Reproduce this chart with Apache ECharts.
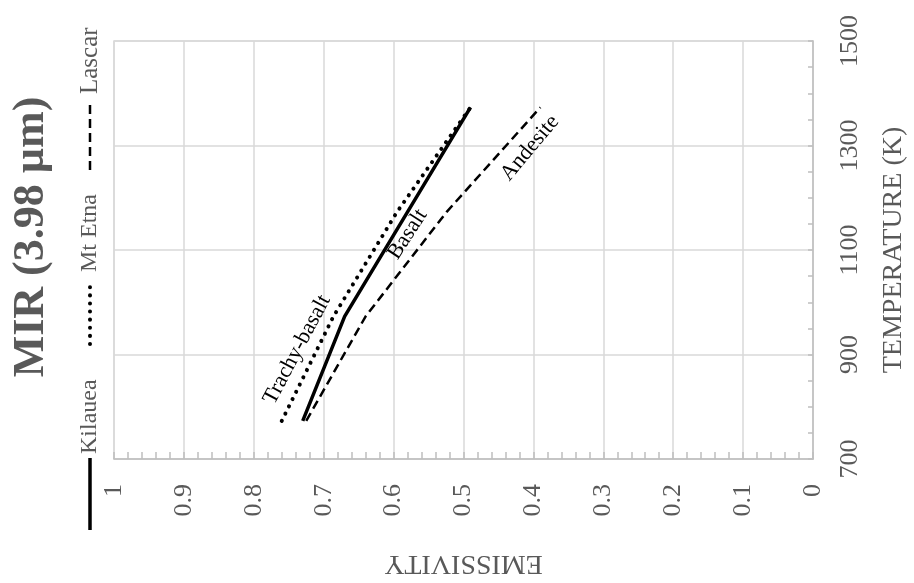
<!DOCTYPE html>
<html><head><meta charset="utf-8">
<script src="https://cdn.jsdelivr.net/npm/echarts@6/dist/echarts.min.js"></script>
<style>html,body{margin:0;padding:0;background:#fff}#c{width:914px;height:583px}</style>
</head><body><div id="c"></div>
<script>
// Data (emissivity vs. temperature, MIR 3.98 µm)
const temperatures = [773, 973, 1173, 1373];
const kilauea = [0.73, 0.67, 0.58, 0.49];      // Basalt
const mtEtna  = [0.76, 0.686, 0.595, 0.49];    // Trachy-basalt
const lascar  = [0.725, 0.64, 0.524, 0.39];    // Andesite
const seriesNames = ['Kilauea', 'Mt Etna', 'Lascar'];
const rockNames = ['Basalt', 'Trachy-basalt', 'Andesite'];
const titleText = 'MIR (3.98 µm)';
const xAxisName = 'EMISSIVITY';
const yAxisName = 'TEMPERATURE (K)';

const FONT = 'Liberation Serif';
const GREY = '#595959';

function pairs(vals){ return vals.map((v,i)=>[v, temperatures[i]]); }
function rockLabel(name, coord, rot){
  return {
    symbol:'circle', symbolSize:1, itemStyle:{color:'rgba(0,0,0,0)'},
    silent:true, animation:false,
    label:{show:true, position:'inside', color:'#000', fontFamily:FONT, fontSize:22, rotate:rot, formatter:'{b}'},
    data:[{name:name, coord:coord}]
  };
}

const chart = echarts.init(document.getElementById('c'));
chart.setOption({
  animation:false,
  backgroundColor:'#fff',
  grid:{left:114, right:101, top:41, bottom:124, containLabel:false, outerBoundsMode:'none',
        show:true, borderColor:'#d9d9d9', borderWidth:1.5},
  xAxis:{
    type:'value', min:0, max:1, interval:0.1, inverse:true, position:'bottom',
    name:xAxisName, nameLocation:'middle', nameGap:90, nameRotate:180, nameMoveOverlap:false,
    nameTextStyle:{fontFamily:FONT, fontSize:28, color:GREY},
    axisLine:{show:true, onZero:false, lineStyle:{color:'#bfbfbf', width:1.5}},
    axisTick:{show:true, inside:true, length:7, lineStyle:{color:'#bfbfbf', width:1.5}},
    minorTick:{show:true, splitNumber:5, length:7, lineStyle:{color:'#bfbfbf', width:1.5}},
    splitLine:{show:true, lineStyle:{color:'#d9d9d9', width:1.5}},
    axisLabel:{rotate:90, margin:25, fontFamily:FONT, fontSize:26, color:GREY,
      formatter:v=>String(Math.round(v*10)/10)}
  },
  yAxis:{
    type:'value', min:700, max:1500, interval:200, position:'right',
    name:yAxisName, nameLocation:'middle', nameGap:67, nameRotate:90, nameMoveOverlap:false,
    nameTextStyle:{fontFamily:FONT, fontSize:28, color:GREY},
    axisLine:{show:true, onZero:false, lineStyle:{color:'#bfbfbf', width:1.5}},
    axisTick:{show:true, inside:true, length:5, lineStyle:{color:'#bfbfbf', width:1.5}},
    minorTick:{show:true, splitNumber:4, length:5, lineStyle:{color:'#bfbfbf', width:1.5}},
    splitLine:{show:true, lineStyle:{color:'#d9d9d9', width:1.5}},
    axisLabel:{rotate:90, margin:24, fontFamily:FONT, fontSize:26, color:GREY,
      formatter:v=>String(v)}
  },
  series:[
    {name:seriesNames[1], type:'line', data:pairs(mtEtna), showSymbol:false, z:2,
     lineStyle:{color:'#000', width:4, type:[0.1,8], cap:'round'},
     markPoint:rockLabel(rockNames[1], [0.738, 909], 62)},
    {name:seriesNames[2], type:'line', data:pairs(lascar), showSymbol:false, z:3,
     lineStyle:{color:'#000', width:2.5, type:[9,5]},
     markPoint:rockLabel(rockNames[2], [0.405, 1295], 50)},
    {name:seriesNames[0], type:'line', data:pairs(kilauea), showSymbol:false, z:4,
     lineStyle:{color:'#000', width:3.5},
     markPoint:rockLabel(rockNames[0], [0.58, 1130], 57)}
  ],
  graphic:[
    {type:'text', x:32, y:237, rotation:Math.PI/2, silent:true,
     style:{text:titleText, fontFamily:FONT, fontWeight:'bold', fontSize:44, fill:GREY, align:'center', verticalAlign:'middle'}},
    {type:'group', x:90, y:530, rotation:Math.PI/2, silent:true, children:[
      {type:'line', shape:{x1:0,y1:0,x2:72,y2:0}, style:{stroke:'#000', lineWidth:3.5}},
      {type:'text', x:76, y:0, style:{text:seriesNames[0], fontFamily:FONT, fontSize:24, fill:GREY, align:'left', verticalAlign:'middle'}},
      {type:'line', shape:{x1:186,y1:0,x2:250,y2:0}, style:{stroke:'#000', lineWidth:4, lineDash:[0.1,8], lineCap:'round'}},
      {type:'text', x:258, y:0, style:{text:seriesNames[1], fontFamily:FONT, fontSize:24, fill:GREY, align:'left', verticalAlign:'middle'}},
      {type:'line', shape:{x1:360,y1:0,x2:430,y2:0}, style:{stroke:'#000', lineWidth:2.5, lineDash:[9,5]}},
      {type:'text', x:436, y:0, style:{text:seriesNames[2], fontFamily:FONT, fontSize:25, fill:GREY, align:'left', verticalAlign:'middle'}}
    ]}
  ]
});
</script></body></html>
